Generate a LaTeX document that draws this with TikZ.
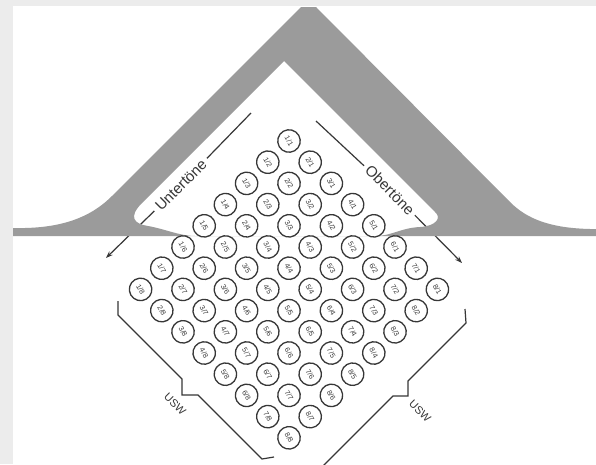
\documentclass[tikz,border=0pt]{standalone}
\usepackage{fontspec}
\setmainfont{Liberation Sans}
\usetikzlibrary{arrows.meta}
\definecolor{tent}{RGB}{155,155,155}
\definecolor{ink}{RGB}{55,55,55}
\definecolor{framegray}{RGB}{236,236,236}
\begin{document}
\begin{tikzpicture}[x=1pt,y=-1pt,
  cell/.style={circle, draw=ink, line width=1.3pt, fill=white, minimum size=22.5pt,
    inner sep=0pt, font=\fontsize{7.2}{7.2}\selectfont, text=ink, rotate=-60},
  lbl/.style={font=\fontsize{15}{15}\selectfont, text=ink, inner sep=4pt},
  uswlbl/.style={font=\fontsize{11}{11}\selectfont, text=ink, inner sep=1pt, rotate=-45},
  guide/.style={draw=ink, line width=1.2pt},
  arr/.style={guide, -{Stealth[length=7pt,width=5pt]}},
  bracket/.style={draw=ink, line width=1.2pt, line join=miter}]
\useasboundingbox (0,0) rectangle (596,464);
\clip (0,0) rectangle (596,464);
% frame
\fill[framegray] (0,0) rectangle (596,464);
\fill[white] (13,6) rectangle (596,464);

% guide lines with labels (drawn below the tent)
\coordinate (ut) at (251,113);
\coordinate (ua) at (106,258);
\node[lbl, rotate=45] (unter) at (181,185) {Untertöne};
\draw[guide] (ut) -- (unter);
\draw[arr] (unter) -- (ua);

\coordinate (ot) at (316,121);
\coordinate (oa) at (462,263);
\node[lbl, rotate=-45] (ober) at (390,190) {Obertöne};
\draw[guide] (ot) -- (ober);
\draw[arr] (ober) -- (oa);

% the tent shape
\fill[tent, even odd rule]
  (13,236) -- (13,228) -- (25,228) .. controls (70,227) and (95,213) .. (112,196)
  -- (301,7) -- (316,7) -- (510,202)
  .. controls (527,219) and (550,228) .. (590,229) -- (596,229) -- (596,236) -- cycle
  (284,61) -- (142,203) .. controls (128,217) and (134,224) .. (148,226)
  .. controls (165,229) and (180,236) .. (195,236) -- (375,236)
  .. controls (392,236) and (400,228) .. (420,227)
  .. controls (436,226) and (442,218) .. (435,212) -- cycle;

% the grid of ratios
\foreach \i in {1,...,8}{
  \foreach \j in {1,...,8}{
    \node[cell] (c-\i-\j) at ({289+(\i-\j)*21.2},{141+(\i+\j-2)*21.2}) {\i/\j};
  }
}

% brackets
\draw[bracket] (118,301) -- (118,315) -- (182,379) -- (182,395) -- (198,395)
  -- (262,459) -- (274,457);
\draw[bracket] (465,309) -- (466,323) -- (408,381) -- (408,396) -- (393,396)
  -- (300,489);
\node[uswlbl] (uswL) at (175,404) {USW};
\node[uswlbl] (uswR) at (420,411) {USW};
\end{tikzpicture}
\end{document}
